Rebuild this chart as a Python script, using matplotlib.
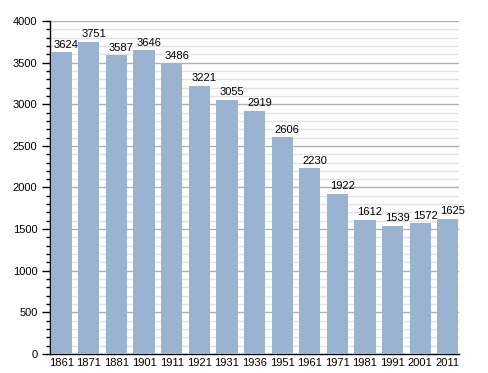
import matplotlib
matplotlib.use("Agg")
import matplotlib.pyplot as plt
from matplotlib.ticker import MultipleLocator

years = ['1861', '1871', '1881', '1901', '1911', '1921', '1931', '1936',
         '1951', '1961', '1971', '1981', '1991', '2001', '2011']
population = [3624, 3751, 3587, 3646, 3486, 3221, 3055, 2919,
              2606, 2230, 1922, 1612, 1539, 1572, 1625]

plt.rcParams['font.family'] = ['Liberation Sans', 'DejaVu Sans']

fig = plt.figure(figsize=(4.88, 3.73), dpi=100)
ax = fig.add_axes([0.1025, 0.051, 0.8381, 0.8927])

width = 0.77
pos = list(range(len(years)))
ax.bar(pos, population, width=width, align='edge', color='#99b3d1', zorder=3)

for i, v in enumerate(population):
    ax.text(i + width / 2 + 0.18, v + 30, str(v), ha='center', va='bottom',
            fontsize=8, zorder=4)

ax.set_xlim(-0.02, len(years) - 1 + width + 0.02)
ax.set_ylim(0, 4000)
ax.set_xticks([p + width / 2 for p in pos])
ax.set_xticklabels(years, fontsize=8)
ax.tick_params(axis='x', length=0, pad=3)

ax.yaxis.set_major_locator(MultipleLocator(500))
ax.yaxis.set_minor_locator(MultipleLocator(100))
ax.tick_params(axis='y', which='major', length=6, width=1, labelsize=8, pad=3)
ax.tick_params(axis='y', which='minor', length=3, width=1)

ax.grid(axis='y', which='major', color='#b0b0b0', linewidth=1, zorder=0)
ax.grid(axis='y', which='minor', color='#e2e2e2', linewidth=1, zorder=0)

for s in ['top', 'right']:
    ax.spines[s].set_visible(False)
ax.spines['left'].set_linewidth(1)
ax.spines['bottom'].set_linewidth(1)

fig.savefig('out.png', dpi=100)
